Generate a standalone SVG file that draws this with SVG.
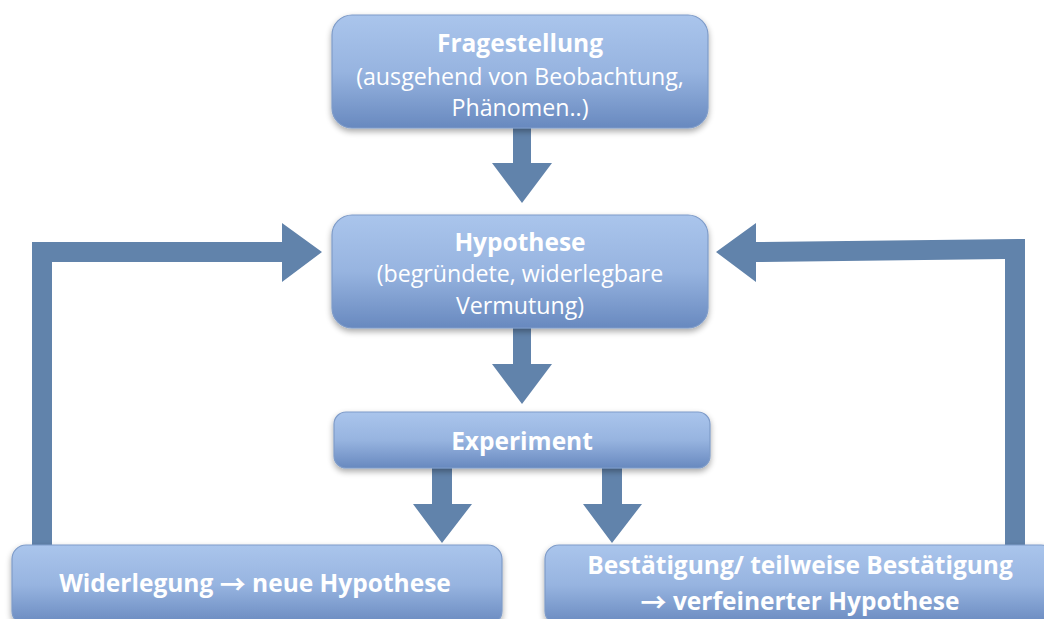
<svg xmlns="http://www.w3.org/2000/svg" width="1044" height="619" viewBox="0 0 1044 619">
<defs>
<linearGradient id="g" x1="0" y1="0" x2="0" y2="1">
<stop offset="0" stop-color="#aac5ec"/>
<stop offset="0.5" stop-color="#97b4e0"/>
<stop offset="1" stop-color="#6889bf"/>
</linearGradient>
<filter id="sh" x="-10%" y="-20%" width="120%" height="150%">
<feGaussianBlur in="SourceAlpha" stdDeviation="3"/>
<feOffset dx="0" dy="3" result="b"/>
<feComponentTransfer><feFuncA type="linear" slope="0.35"/></feComponentTransfer>
<feMerge><feMergeNode/><feMergeNode in="SourceGraphic"/></feMerge>
</filter>
</defs>
<style>
.box{fill:url(#g);stroke:#7f9cc9;stroke-width:1.2;filter:url(#sh)}
.arr{fill:#6183ab}
text{font-family:"Open Sans","Liberation Sans",sans-serif;fill:#ffffff;text-anchor:middle;dominant-baseline:central}
.b{font-weight:bold;font-size:24.5px}
.r{font-size:23.2px}
.ar{font-family:"Noto Sans CJK SC",sans-serif;font-weight:bold;font-size:26px}
</style>
<rect width="1044" height="619" fill="#ffffff"/>
<g id="connectors">
<polygon class="arr" points="513,127 531,127 531,163 552,163 522,203 492,163 513,163"/>
<polygon class="arr" points="513,327 531,327 531,364 552,364 522,404 492,364 513,364"/>
<polygon class="arr" points="432,467 452,467 452,504 472,504 442,543 413,504 432,504"/>
<polygon class="arr" points="602,467 622,467 622,504 642,504 612,543 583,504 602,504"/>
<polygon class="arr" points="32,548 32,242 282,242 282,223 322,252 282,282 282,262 52,262 52,548"/>
<polygon class="arr" points="1025,548 1025,239 756,242 756,223 716,252 756,282 756,262 1005,259 1005,548"/>
</g>
<g id="n1">
<rect class="box" x="332" y="15" width="376" height="113" rx="20"/>
<text class="b" x="520" y="42">Fragestellung</text>
<text class="r" x="520" y="76">(ausgehend von Beobachtung,</text>
<text class="r" x="520" y="107">Phänomen..)</text>
</g>
<g id="n2">
<rect class="box" x="332" y="215" width="376" height="113" rx="20"/>
<text class="b" x="520" y="241">Hypothese</text>
<text class="r" x="520" y="273">(begründete, widerlegbare</text>
<text class="r" x="520" y="305">Vermutung)</text>
</g>
<g id="n3">
<rect class="box" x="334" y="412" width="376" height="56" rx="12"/>
<text class="b" x="522" y="440">Experiment</text>
</g>
<g id="n4">
<rect class="box" x="12" y="545" width="490" height="80" rx="14"/>
<text class="b" x="255" y="582">Widerlegung <tspan class="ar">→</tspan> neue Hypothese</text>
</g>
<g id="n5">
<rect class="box" x="545" y="545" width="510" height="80" rx="14"/>
<text class="b" x="800" y="564">Bestätigung/ teilweise Bestätigung</text>
<text class="b" x="800" y="600"><tspan class="ar">→</tspan> verfeinerter Hypothese</text>
</g>
</svg>
